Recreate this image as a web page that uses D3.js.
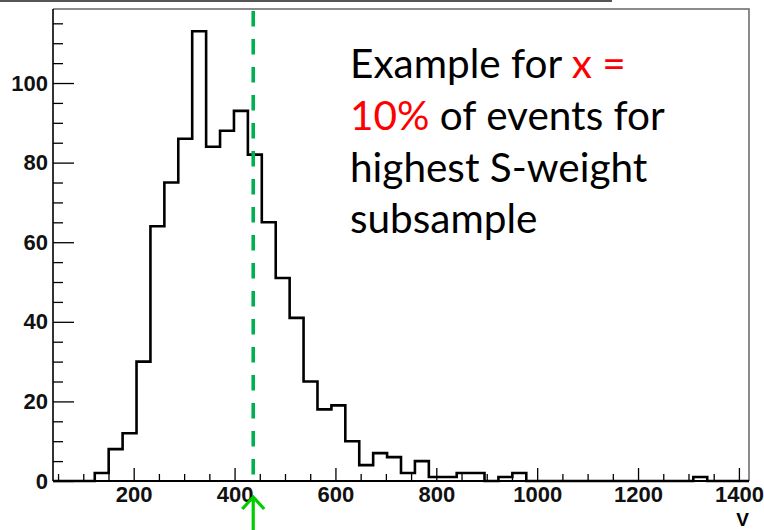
<!DOCTYPE html>
<html>
<head>
<meta charset="utf-8">
<script src="https://cdn.jsdelivr.net/npm/d3@7"></script>
<style>
  body { margin: 0; background: #fff; }
  .axis text { font-family: "Liberation Sans", Arial, sans-serif; font-weight: bold; font-size: 22px; fill: #111; }
  .axis path { display: none; }
  .axis line { stroke: #000; stroke-width: 1.3; }
  .note { font-family: Lato, "Open Sans", sans-serif; font-size: 40.5px; fill: #000; }
</style>
</head>
<body>
<svg width="764" height="530"></svg>
<script>
// histogram range (ROOT style, 50 bins)
var binLow = 40, binHigh = 1420;
var counts = [0, 0, 0, 2, 8, 12, 30, 64, 75, 86,
              113, 84, 88, 93, 82, 65, 51, 41, 25, 18,
              19, 10, 4, 7, 6, 2, 5, 1, 1, 2,
              2, 0, 1, 2, 0, 0, 0, 0, 0, 0,
              0, 0, 0, 0, 0, 0, 1, 0, 0, 0];
var cutValue = 437;   // green dashed line
var yMax = 118.6;

var xMajor = [200, 400, 600, 800, 1000, 1200, 1400];
var xMinor = d3.range(50, 1401, 50).filter(function (v) { return v % 200 !== 0; });
var yMajor = [0, 20, 40, 60, 80, 100];
var yMinor = d3.range(5, 116, 5).filter(function (v) { return v % 20 !== 0; });

var noteLines = [
  [{ t: "Example for ", c: "#000" }, { t: "x =", c: "#ff0000" }],
  [{ t: "10%", c: "#ff0000" }, { t: " of events for", c: "#000" }],
  [{ t: "highest S-weight", c: "#000" }],
  [{ t: "subsample", c: "#000" }]
];

var svg = d3.select("svg"),
    margin = { top: 9, right: 15, bottom: 49, left: 53 },
    width = +svg.attr("width") - margin.left - margin.right,
    height = +svg.attr("height") - margin.top - margin.bottom;

var x = d3.scaleLinear().domain([binLow, binHigh]).range([0, width]);
var y = d3.scaleLinear().domain([0, yMax]).range([height, 0]);

// slide decoration line at very top
svg.append("line").attr("x1", 0).attr("x2", 612).attr("y1", 1).attr("y2", 1)
  .attr("stroke", "#555").attr("stroke-width", 2);

var g = svg.append("g").attr("transform", "translate(" + margin.left + "," + margin.top + ")");

// frame: top & right grey
g.append("path")
  .attr("d", "M0,0H" + width + "V" + height)
  .attr("fill", "none").attr("stroke", "#666").attr("stroke-width", 1.5);

// axes (ticks pointing into the frame)
g.append("g").attr("class", "axis")
  .attr("transform", "translate(0," + height + ")")
  .call(d3.axisBottom(x).tickValues(xMinor).tickSize(-7).tickFormat(""));
g.append("g").attr("class", "axis")
  .attr("transform", "translate(0," + height + ")")
  .call(d3.axisBottom(x).tickValues(xMajor).tickSize(-13).tickPadding(5).tickFormat(d3.format("d")));

g.append("g").attr("class", "axis")
  .call(d3.axisLeft(y).tickValues(yMinor).tickSize(-10).tickFormat(""));
g.append("g").attr("class", "axis")
  .call(d3.axisLeft(y).tickValues(yMajor).tickSize(-21).tickPadding(5).tickFormat(d3.format("d")));

// axis lines
g.append("line").attr("x1", 0).attr("x2", width).attr("y1", height).attr("y2", height)
  .attr("stroke", "#000").attr("stroke-width", 2.2);
g.append("line").attr("x1", 0).attr("x2", 0).attr("y1", 0).attr("y2", height)
  .attr("stroke", "#000").attr("stroke-width", 1.6);

// histogram outline
var bw = (binHigh - binLow) / counts.length;
var steps = counts.map(function (c, i) { return { v: binLow + i * bw, c: c }; });
steps.push({ v: binHigh, c: counts[counts.length - 1] });

var line = d3.line()
  .x(function (d) { return x(d.v); })
  .y(function (d) { return y(d.c); })
  .curve(d3.curveStepAfter);

g.append("path").datum(steps)
  .attr("d", line)
  .attr("fill", "none").attr("stroke", "#000").attr("stroke-width", 2.6);

// cut line
g.append("line")
  .attr("x1", x(cutValue)).attr("x2", x(cutValue))
  .attr("y1", 2).attr("y2", height - 6)
  .attr("stroke", "#00b050").attr("stroke-width", 3.6)
  .attr("stroke-dasharray", "15.5,12.5");

// arrow under axis
var ax = x(cutValue);
g.append("path")
  .attr("d", "M" + ax + "," + (margin.top + height + 70) + "V" + (height + 16) +
             "M" + (ax - 11) + "," + (height + 28) + "L" + ax + "," + (height + 16) + "L" + (ax + 11) + "," + (height + 28))
  .attr("fill", "none").attr("stroke", "#00cc00").attr("stroke-width", 3.2);

// x axis title
g.append("text")
  .attr("x", width).attr("y", height + 45)
  .attr("text-anchor", "end")
  .style("font-family", "'Liberation Sans', Arial, sans-serif")
  .style("font-weight", "bold").style("font-size", "19px")
  .text("V");

// note text
var note = svg.append("text").attr("class", "note");
noteLines.forEach(function (parts, i) {
  var tl = note.append("tspan").attr("x", 350).attr("y", 78 + i * 51.8);
  parts.forEach(function (p, j) {
    var sp = j === 0 ? tl : note.append("tspan");
    sp.text(p.t).attr("fill", p.c);
  });
});
</script>
</body>
</html>
